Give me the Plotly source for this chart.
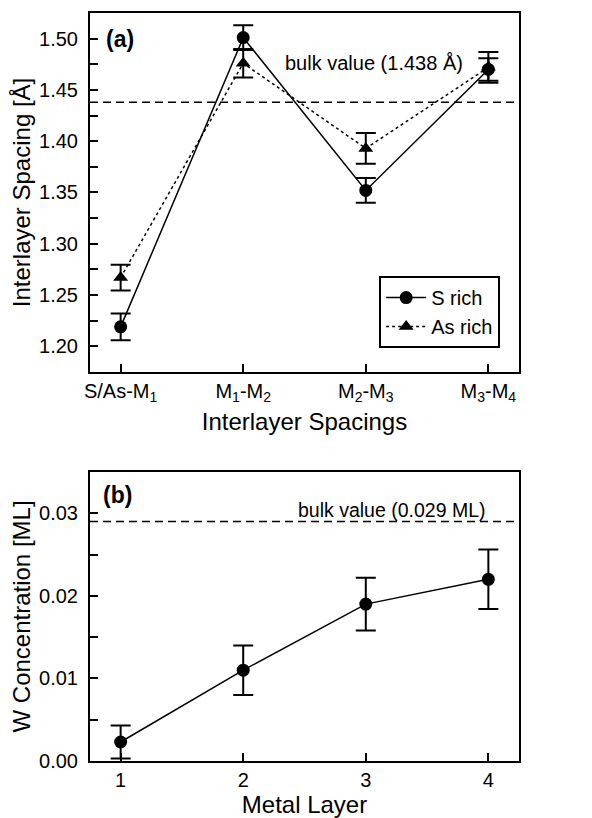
import plotly.graph_objects as go
from plotly.subplots import make_subplots

# ---- data ----
spacing_labels = ["S/As-M<sub>1</sub>", "M<sub>1</sub>-M<sub>2</sub>",
                  "M<sub>2</sub>-M<sub>3</sub>", "M<sub>3</sub>-M<sub>4</sub>"]
s_rich = [1.219, 1.501, 1.352, 1.470]
s_rich_err = [0.013, 0.012, 0.012, 0.011]
as_rich = [1.267, 1.476, 1.393, 1.472]
as_rich_err = [0.0125, 0.014, 0.015, 0.015]
bulk_spacing = 1.438

metal_layers = [1, 2, 3, 4]
w_conc = [0.0023, 0.011, 0.019, 0.022]
w_conc_err = [0.0020, 0.0030, 0.0032, 0.0036]
bulk_w = 0.029

FONT = "Liberation Sans, Arial, Helvetica, sans-serif"
pos = list(range(len(spacing_labels)))

fig = make_subplots(rows=2, cols=1)

fig.add_trace(go.Scatter(
    x=pos, y=s_rich, name="S rich", mode="lines+markers",
    line=dict(color="black", width=1.5),
    marker=dict(symbol="circle", size=13, color="black"),
    error_y=dict(type="data", array=s_rich_err, color="black", thickness=2, width=10),
), row=1, col=1)
fig.add_trace(go.Scatter(
    x=pos, y=as_rich, name="As rich", mode="lines+markers",
    line=dict(color="black", width=1.5, dash="dot"),
    marker=dict(symbol="triangle-up", size=13, color="black"),
    error_y=dict(type="data", array=as_rich_err, color="black", thickness=2, width=10),
), row=1, col=1)

fig.add_trace(go.Scatter(
    x=metal_layers, y=w_conc, mode="lines+markers", showlegend=False,
    line=dict(color="black", width=1.5),
    marker=dict(symbol="circle", size=13, color="black"),
    error_y=dict(type="data", array=w_conc_err, color="black", thickness=2, width=10),
), row=2, col=1)

fig.add_hline(y=bulk_spacing, line=dict(color="black", width=1.5, dash="8px,5px"), row=1, col=1)
fig.add_hline(y=bulk_w, line=dict(color="black", width=1.5, dash="8px,5px"), row=2, col=1)

axis_common = dict(showline=True, linecolor="black", linewidth=2, mirror=True,
                   ticks="inside", tickcolor="black", tickwidth=2, ticklen=8,
                   showgrid=False, zeroline=False, automargin=False,
                   tickfont=dict(family=FONT, size=20, color="black"),
                   title_font=dict(family=FONT, size=24, color="black"))

fig.update_xaxes(**axis_common)
fig.update_yaxes(**axis_common)

fig.update_xaxes(row=1, col=1, range=[-0.25, 3.25], tickvals=pos, ticktext=spacing_labels,
                 title_text="Interlayer Spacings", title_standoff=9)
fig.update_yaxes(row=1, col=1, range=[1.175, 1.525], dtick=0.05, tickformat=".2f",
                 ticklabelstandoff=6,
                 minor=dict(ticks="inside", dtick=0.025, ticklen=8, tickwidth=2, tickcolor="black"),
                 title_text="Interlayer Spacing [Å]", title_standoff=3)
fig.update_xaxes(row=2, col=1, range=[0.75, 4.25], tickvals=metal_layers,
                 title_text="Metal Layer", title_standoff=0)
fig.update_yaxes(row=2, col=1, range=[0, 0.035], dtick=0.01, tickformat=".2f",
                 ticklabelstandoff=6,
                 minor=dict(ticks="inside", dtick=0.005, ticklen=8, tickwidth=2, tickcolor="black"),
                 title_text="W Concentration [ML]", title_standoff=3)

fig.update_layout(
    width=592, height=818,
    margin=dict(l=82, r=81, t=5, b=65),
    paper_bgcolor="white", plot_bgcolor="white",
    font=dict(family=FONT, color="black"),
    xaxis=dict(domain=[0, 1]), xaxis2=dict(domain=[0, 1]),
    yaxis=dict(domain=[0.5201, 1.0]), yaxis2=dict(domain=[0.0, 0.3864]),
    legend=dict(x=0.674, y=0.5201 + 0.032, xanchor="left", yanchor="bottom",
                xref="paper", yref="paper",
                bordercolor="black", borderwidth=2, bgcolor="white",
                font=dict(family=FONT, size=20, color="black"),
                itemwidth=40, tracegroupgap=2),
    showlegend=True,
)

fig.add_annotation(x=0.033, y=0.927, xref="x domain", yref="y domain", text="<b>(a)</b>",
                   showarrow=False, xanchor="left", yanchor="middle",
                   font=dict(family=FONT, size=23, color="black"))
fig.add_annotation(x=0.026, y=0.92, xref="x2 domain", yref="y2 domain", text="<b>(b)</b>",
                   showarrow=False, xanchor="left", yanchor="middle",
                   font=dict(family=FONT, size=23, color="black"))
fig.add_annotation(x=0.45, y=0.86, xref="x domain", yref="y domain",
                   text="bulk value (1.438 Å)", showarrow=False, xanchor="left", yanchor="middle",
                   font=dict(family=FONT, size=20, color="black"))
fig.add_annotation(x=0.48, y=0.87, xref="x2 domain", yref="y2 domain",
                   text="bulk value (0.029 ML)", showarrow=False, xanchor="left", yanchor="middle",
                   font=dict(family=FONT, size=19.5, color="black"))

fig.write_html("out.html")
